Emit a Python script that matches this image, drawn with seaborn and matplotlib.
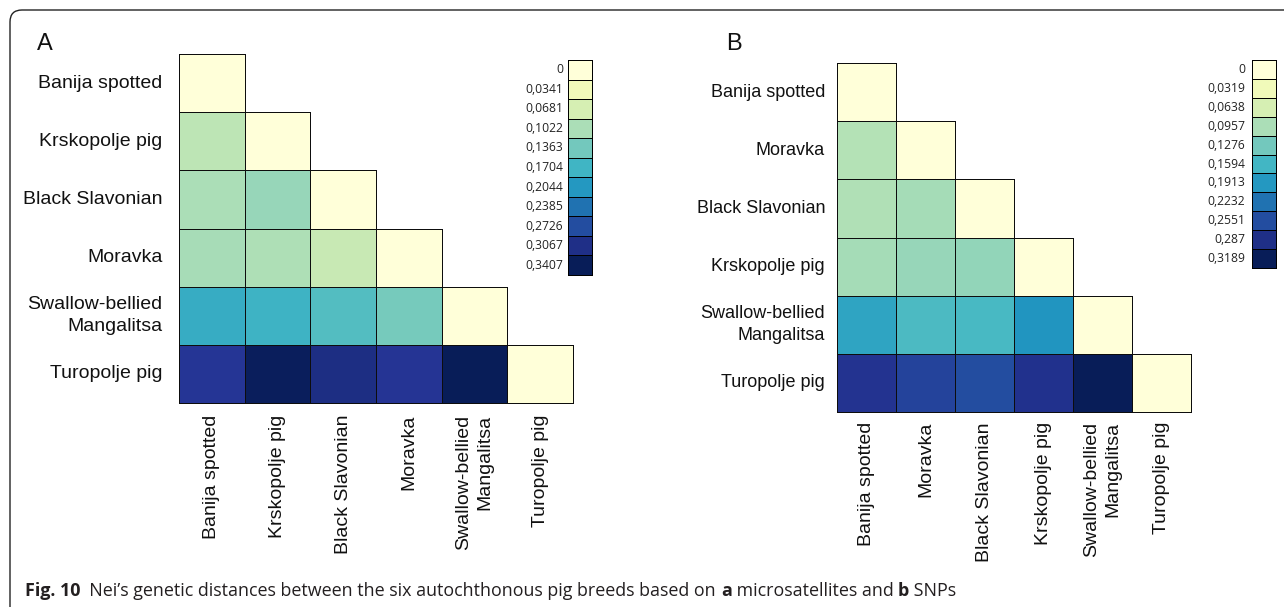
import numpy as np
import pandas as pd
import seaborn as sns
import matplotlib
matplotlib.use("Agg")
import matplotlib.pyplot as plt
from matplotlib.patches import FancyBboxPatch
from matplotlib.transforms import IdentityTransform

# ---- data -----------------------------------------------------------------
breeds_a = ["Banija spotted", "Krskopolje pig", "Black Slavonian", "Moravka",
            "Swallow-bellied\nMangalitsa", "Turopolje pig"]
breeds_b = ["Banija spotted", "Moravka", "Black Slavonian", "Krskopolje pig",
            "Swallow-bellied\nMangalitsa", "Turopolje pig"]

# lower triangle of Nei's distance matrix, row by row (diagonal = 0)
nei_microsat = [
    [0.0],
    [0.091, 0.0],
    [0.102, 0.114, 0.0],
    [0.105, 0.100, 0.085, 0.0],
    [0.181, 0.174, 0.158, 0.134, 0.0],
    [0.296, 0.337, 0.310, 0.298, 0.3407, 0.0],
]
nei_snp = [
    [0.0],
    [0.090, 0.0],
    [0.093, 0.099, 0.0],
    [0.099, 0.107, 0.109, 0.0],
    [0.179, 0.153, 0.155, 0.195, 0.0],
    [0.281, 0.265, 0.255, 0.284, 0.3189, 0.0],
]

legend_a = [0, 0.0341, 0.0681, 0.1022, 0.1363, 0.1704, 0.2044, 0.2385,
            0.2726, 0.3067, 0.3407]
legend_b = [0, 0.0319, 0.0638, 0.0957, 0.1276, 0.1594, 0.1913, 0.2232,
            0.2551, 0.287, 0.3189]

# ---- helpers --------------------------------------------------------------
W, H = 1284, 607
sns.set_theme(style="white")
plt.rcParams["font.family"] = ["Liberation Sans", "DejaVu Sans"]

fig = plt.figure(figsize=(W / 100, H / 100), dpi=100)
fig.patch.set_facecolor("white")


def px_axes(x0, y0, x1, y1):
    """Axes from pixel box (top-left origin)."""
    return fig.add_axes([x0 / W, (H - y1) / H, (x1 - x0) / W, (y1 - y0) / H])


def full_matrix(tri, names):
    n = len(names)
    m = np.zeros((n, n))
    for i, row in enumerate(tri):
        for j, v in enumerate(row):
            m[i, j] = v
    return pd.DataFrame(m, index=names, columns=names)


def fmt(v):
    s = f"{v:.4f}".rstrip("0").rstrip(".")
    return s.replace(".", ",")


def draw_matrix(ax, tri, names, vmax, ylab_size, xpad, ypad):
    df = full_matrix(tri, names)
    n = len(names)
    mask = np.triu(np.ones((n, n), dtype=bool), k=1)
    sns.heatmap(df, mask=mask, cmap="YlGnBu", vmin=0, vmax=vmax, cbar=False,
                linewidths=0.7, linecolor="black", square=False, ax=ax,
                xticklabels=True, yticklabels=True)
    mesh = ax.collections[0]
    # edges only around the drawn (unmasked) cells
    edge = np.array([(0, 0, 0, 0) if m else (0.05, 0.05, 0.05, 1)
                     for m in mask.ravel()])
    mesh.set_edgecolors(edge)
    mesh.set_clip_on(False)
    ax.tick_params(axis="both", length=0)
    ax.tick_params(axis="y", pad=ypad)
    ax.tick_params(axis="x", pad=xpad)
    ax.set_xlabel("")
    ax.set_ylabel("")
    for t in ax.get_yticklabels():
        t.set_rotation(0)
        t.set_ha("right")
        t.set_va("center")
        t.set_multialignment("right")
        t.set_fontsize(ylab_size)
        t.set_linespacing(1.35)
        t.set_color("#111111")
    for t in ax.get_xticklabels():
        t.set_rotation(90)
        t.set_ha("center")
        t.set_va("top")
        t.set_multialignment("right")
        t.set_fontsize(14)
        t.set_linespacing(1.35)
        t.set_color("#111111")
    for s in ax.spines.values():
        s.set_visible(False)


def draw_legend(ax, values, vmax, pad):
    df = pd.DataFrame({"v": values}, index=[fmt(v) for v in values])
    sns.heatmap(df, cmap="YlGnBu", vmin=0, vmax=vmax, cbar=False,
                linewidths=0.7, linecolor="black", ax=ax,
                xticklabels=False, yticklabels=True)
    ax.collections[0].set_clip_on(False)
    ax.tick_params(axis="y", length=0, pad=pad, labelsize=8.7)
    ax.set_xlabel("")
    ax.set_ylabel("")
    for t in ax.get_yticklabels():
        t.set_rotation(0)
        t.set_fontfamily(["Open Sans", "DejaVu Sans"])
        t.set_color("#222222")
    for s in ax.spines.values():
        s.set_visible(True)
        s.set_color("black")
        s.set_linewidth(0.7)


# ---- panel A ---------------------------------------------------------------
ax_a = px_axes(179, 54, 573, 403)
draw_matrix(ax_a, nei_microsat, breeds_a, legend_a[-1], 14, 8.6, 12)
leg_a = px_axes(568, 60, 592, 275)
draw_legend(leg_a, legend_a, legend_a[-1], 3.5)

# ---- panel B ---------------------------------------------------------------
ax_b = px_axes(837, 63, 1191, 412)
draw_matrix(ax_b, nei_snp, breeds_b, legend_b[-1], 13, 7.2, 8.6)
leg_b = px_axes(1252, 60, 1276, 268)
draw_legend(leg_b, legend_b, legend_b[-1], 5)

# panel letters
fig.text(37 / W, 1 - 50 / H, "A", fontsize=17, ha="left", va="baseline",
         color="#111111")
fig.text(726 / W, 1 - 50 / H, "B", fontsize=17, ha="left", va="baseline",
         color="#111111")

# ---- rounded frame (top and left edges visible) ----------------------------
frame = FancyBboxPatch((10, -30), 1320, H - 10 + 30,
                       boxstyle="round,pad=0,rounding_size=12",
                       transform=IdentityTransform(), fill=False,
                       edgecolor="#222222", linewidth=1.0)
fig.add_artist(frame)

# ---- caption ---------------------------------------------------------------
pieces = [("Fig. 10", "bold"),
          ("  Nei\u2019s genetic distances between the six autochthonous pig "
           "breeds based on ", "normal"),
          ("a", "bold"), (" microsatellites and ", "normal"),
          ("b", "bold"), (" SNPs", "normal")]
renderer = fig.canvas.get_renderer()
x = 25
for txt, wt in pieces:
    t = fig.text(x / W, 1 - 596 / H, txt, fontsize=12.85, fontweight=wt,
                 family=["Open Sans", "DejaVu Sans"], ha="left",
                 va="baseline", color="#231f20")
    bb = t.get_window_extent(renderer)
    x = bb.x1

fig.savefig("out.png", dpi=100, facecolor="white")
